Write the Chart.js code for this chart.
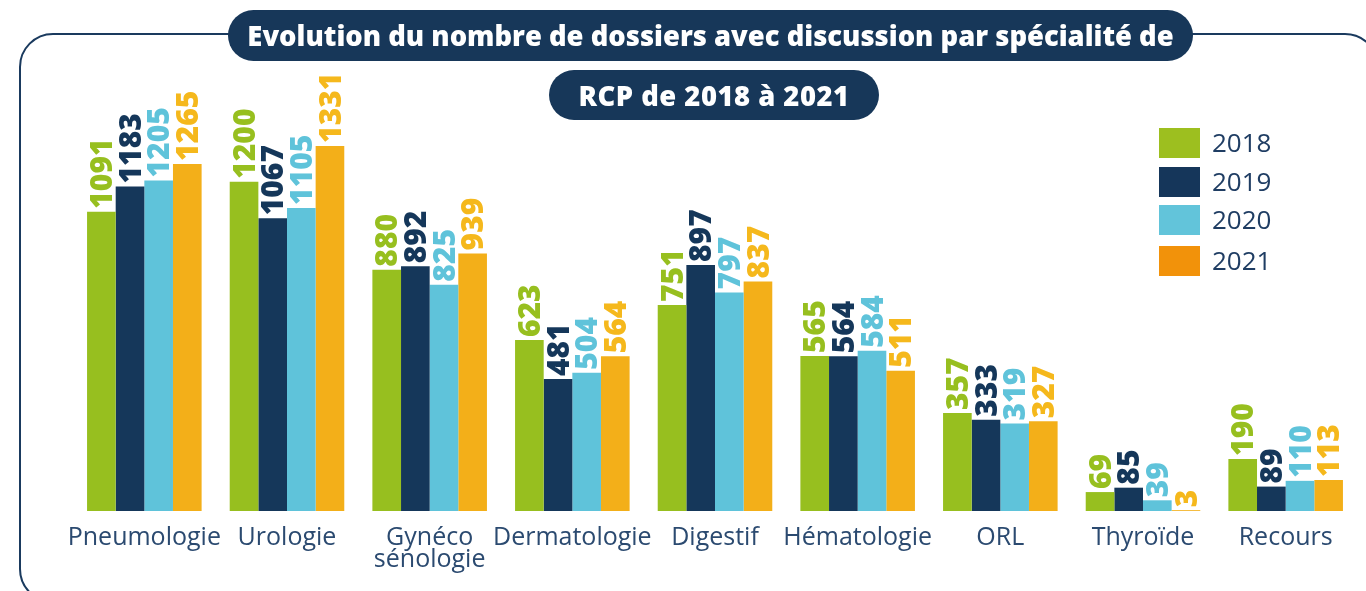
<!DOCTYPE html>
<html>
<head>
<meta charset="utf-8">
<script src="https://cdn.jsdelivr.net/npm/chart.js@4.4.0/dist/chart.umd.min.js"></script>
<style>
  html, body { margin: 0; padding: 0; background: #ffffff; }
  #wrap { position: relative; width: 1366px; height: 591px; overflow: hidden; background: #fff; }
  #frame { position: absolute; left: 19px; top: 33px; width: 1360px; height: 570px; border: 2px solid #1a3a5e; border-radius: 34px; box-sizing: border-box; }
  .pill { position: absolute; background: #173759; color: #fff; font-family: "Open Sans", sans-serif; font-weight: 800; font-size: 27.4px; border-radius: 26px; display: flex; align-items: center; justify-content: center; white-space: nowrap; }
  #t1 { left: 228px; top: 10px; width: 965px; height: 51px; }
  #t2 { left: 549px; top: 70px; width: 330px; height: 50px; letter-spacing: 0.5px; }
  canvas { position: absolute; left: 0; top: 0; }
  .lg-box { position: absolute; width: 41px; height: 30px; }
  .lg-txt { position: absolute; font-family: "Open Sans", sans-serif; font-size: 26px; color: #1f3d63; line-height: 30px; }
</style>
</head>
<body>
<div id="wrap">
  <div id="frame"></div>
  <canvas id="c" width="1366" height="591"></canvas>
  <div class="pill" id="t1">Evolution du nombre de dossiers avec discussion par spécialité de</div>
  <div class="pill" id="t2">RCP de 2018 à 2021</div>
  <div id="legend"></div>
</div>
<script>
const categories = ['Pneumologie', 'Urologie', ['Gynéco', 'sénologie'], 'Dermatologie', 'Digestif', 'Hématologie', 'ORL', 'Thyroïde', 'Recours'];
const seriesNames = ['2018', '2019', '2020', '2021'];
const v2018 = [1091, 1200, 880, 623, 751, 565, 357, 69, 190];
const v2019 = [1183, 1067, 892, 481, 897, 564, 333, 85, 89];
const v2020 = [1205, 1105, 825, 504, 797, 584, 319, 39, 110];
const v2021 = [1265, 1331, 939, 564, 837, 511, 327, 3, 113];

const barColors = ['#97bf1f', '#15375a', '#5fc3da', '#f3af19'];
const labelColors = ['#97bf1f', '#15375a', '#5fc3da', '#f5b81c'];
const legendColors = ['#9dbf1f', '#15365a', '#62c4da', '#f2920a'];

const seriesValues = [v2018, v2019, v2020, v2021];

// HTML legend
const lg = document.getElementById('legend');
const legendTops = [128, 167, 205, 246];
seriesNames.forEach((name, i) => {
  const b = document.createElement('div');
  b.className = 'lg-box';
  b.style.left = '1159px';
  b.style.top = legendTops[i] + 'px';
  b.style.background = legendColors[i];
  lg.appendChild(b);
  const t = document.createElement('div');
  t.className = 'lg-txt';
  t.style.left = '1212px';
  t.style.top = (legendTops[i] - 1) + 'px';
  t.textContent = name;
  lg.appendChild(t);
});

const valueLabels = {
  id: 'valueLabels',
  afterDatasetsDraw(chart) {
    const ctx = chart.ctx;
    chart.data.datasets.forEach((ds, i) => {
      const meta = chart.getDatasetMeta(i);
      meta.data.forEach((bar, j) => {
        ctx.save();
        ctx.translate(bar.x, bar.y - 3);
        ctx.rotate(-Math.PI / 2);
        ctx.font = '800 30px "Open Sans", sans-serif';
        ctx.fillStyle = labelColors[i];
        ctx.textAlign = 'left';
        ctx.textBaseline = 'alphabetic';
        ctx.fillText(String(ds.data[j]), 0, 10.7);
        ctx.restore();
      });
    });
  }
};

new Chart(document.getElementById('c'), {
  type: 'bar',
  data: {
    labels: categories,
    datasets: seriesNames.map((n, i) => ({
      label: n,
      data: seriesValues[i],
      backgroundColor: barColors[i],
      borderWidth: 0,
      categoryPercentage: 0.803,
      barPercentage: 1.0
    }))
  },
  options: {
    responsive: false,
    animation: false,
    devicePixelRatio: 1,
    layout: { padding: { left: 73, right: 9, top: 127, bottom: 0 } },
    plugins: { legend: { display: false }, tooltip: { enabled: false }, title: { display: false } },
    scales: {
      x: {
        grid: { display: false, drawTicks: false },
        border: { display: false },
        ticks: {
          autoSkip: false, maxRotation: 0, minRotation: 0, padding: 16,
          color: '#2b4a70',
          font: { family: '"Open Sans", sans-serif', size: 25, lineHeight: 0.88 }
        },
        afterFit: (s) => { s.height = 80; }
      },
      y: { display: false, min: 0, max: 1400 }
    }
  },
  plugins: [valueLabels]
});
</script>
</body>
</html>
